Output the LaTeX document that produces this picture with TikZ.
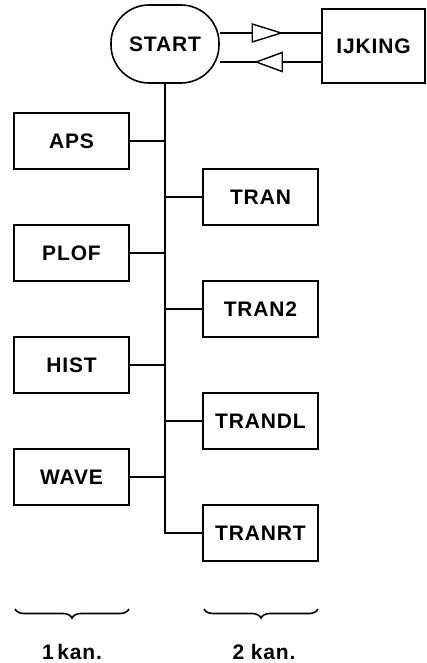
\documentclass[tikz,border=0pt]{standalone}
\usepackage{fontspec}
\setmainfont[LetterSpace=4]{Liberation Sans}
\usetikzlibrary{calc,decorations.pathreplacing}
\begin{document}
\begin{tikzpicture}[x=1pt,y=-1pt,
  line width=1.6pt,
  label font/.style={font=\fontsize{21}{23}\selectfont\bfseries},
  prog/.style={draw,minimum width=115pt,minimum height=56pt,inner sep=0pt,label font},
  startbox/.style={draw,rounded corners=38pt,minimum width=108pt,minimum height=78pt,
    inner sep=0pt,label font},
  flowtip/.style={draw,fill=white,line width=1.4pt,line join=miter},
  bracket/.style={decorate,decoration={brace,mirror,amplitude=9pt,aspect=0.5},line width=1.6pt},
  caption/.style={label font}
]
\useasboundingbox (0,0) rectangle (427,663);

% main program and calibration
\node[startbox] (start) at (165,44) {START};
\node[draw,minimum width=103pt,minimum height=74pt,inner sep=0pt,label font]
  (ijk) at (373.5,46) {IJKING};

% outgoing (upper) and returning (lower) lines
\coordinate (i1) at ($(ijk.west)+(0,-13)$);
\coordinate (i2) at ($(ijk.west)+(0,16)$);
\draw (i1 -| start.east) -- (i1);
\draw (i2) -- (i2 -| start.east);
% open triangles on the two lines
\draw[flowtip] ($(i1)+(-69,-9)$) -- ($(i1)+(-40,0)$) -- ($(i1)+(-69,9)$) -- cycle;
\draw[flowtip] ($(i2)+(-39,-9.5)$) -- ($(i2)+(-65,0)$) -- ($(i2)+(-39,9.5)$) -- cycle;

% single-channel programs
\node[prog] (aps)  at (71.5,141) {APS};
\node[prog] (plof) at (71.5,253) {PLOF};
\node[prog] (hist) at (71.5,365) {HIST};
\node[prog] (wave) at (71.5,477) {WAVE};

% two-channel programs
\node[prog] (tran)   at (260.5,197) {TRAN};
\node[prog] (tran2)  at (260.5,309) {TRAN2};
\node[prog] (trandl) at (260.5,421) {TRANDL};
\node[prog] (tranrt) at (260.5,533) {TRANRT};

% trunk and branches
\draw (start.south) |- (tranrt.west);
\foreach \n in {aps,plof,hist,wave}
  \draw (\n.east) -- (\n.east -| start.south);
\foreach \n in {tran,tran2,trandl}
  \draw (\n.west) -- (\n.west -| start.south);

% channel groups
\coordinate (b1l) at (15,609);
\coordinate (b1r) at (129,609);
\coordinate (b2l) at (204,609);
\coordinate (b2r) at (318,609);
\draw[bracket] (b1l) -- (b1r);
\draw[bracket] (b2l) -- (b2r);
\node[caption] (k1) at (72,652) {1\,kan.};
\node[caption] (k2) at (264,652) {2 kan.};
\end{tikzpicture}
\end{document}
